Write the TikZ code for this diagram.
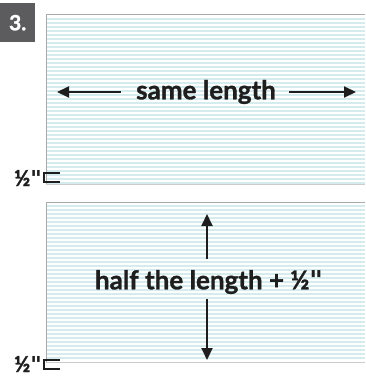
\documentclass[tikz,border=0pt]{standalone}
\usepackage{fontspec}
\setmainfont{Lato}[BoldFeatures={FakeBold=1.2}]
\newfontfamily\qfont{DejaVu Sans}
\usetikzlibrary{arrows.meta}
\definecolor{stripe}{RGB}{212,236,238}
\definecolor{badge}{RGB}{92,92,94}
\definecolor{edge}{RGB}{170,170,170}
\definecolor{ink}{RGB}{30,30,30}
\newcommand{\inch}{{\qfont\bfseries\char34}}
\tikzset{
  arr/.style={-{Triangle[length=12pt,width=11pt]}, line width=2pt, draw=ink},
  big/.style={font=\bfseries\fontsize{26}{26}\selectfont, text=ink, inner sep=0pt},
  small/.style={font=\bfseries\fontsize{22}{22}\selectfont, text=ink, inner sep=0pt, anchor=east},
  bracket/.style={line width=1.2pt, draw=ink},
  frame/.style={draw=edge, line width=1pt}
}
\begin{document}
\begin{tikzpicture}[x=1pt,y=-1pt]
\useasboundingbox (0,0) rectangle (365,377);
\fill[white] (0,0) rectangle (365,377);
% sheet 1
\foreach \y in {18,22,...,182} \fill[stripe] (46,\y) rectangle (365,\y+2);
\draw[frame] (46,184) -- (46,15) -- (365,15);
\draw[edge!60, line width=0.8pt] (46,184) -- (365,184);
% sheet 2
\foreach \y in {205,209,...,360} \fill[stripe] (46,\y) rectangle (365,\y+2);
\draw[frame] (46,362) -- (46,202) -- (365,202);
\draw[edge!60, line width=0.8pt] (46,362) -- (365,362);
% badge
\node[fill=badge, minimum width=35, minimum height=39, anchor=north west, inner sep=0pt,
      font=\bfseries\fontsize{21}{21}\selectfont, text=white] (badge) at (0,3) {3.};
% same length
\node[big] (same) at (206,92) {same length};
\coordinate (ltip) at (57,92);
\coordinate (rtip) at (356,92);
\draw[arr] ([xshift=-15pt]same.west) -- (ltip);
\draw[arr] ([xshift=13pt]same.east) -- (rtip);
% half the length
\node[big] (half) at (209,282) {half the length + ½\inch};
\coordinate (utip) at (207,214);
\coordinate (dtip) at (207,360);
\draw[arr] ([yshift=11pt,xshift=-2pt]half.north) -- (utip);
\draw[arr] ([yshift=-5pt,xshift=-2pt]half.south) -- (dtip);
% half inch marks
\node[small] (m1) at (42,178) {½\inch};
\draw[bracket] (60,173) -- (44,173) -- (44,182) -- (60,182);
\node[small] (m2) at (42,364) {½\inch};
\draw[bracket] (60,360) -- (44,360) -- (44,369) -- (60,369);
\end{tikzpicture}
\end{document}
